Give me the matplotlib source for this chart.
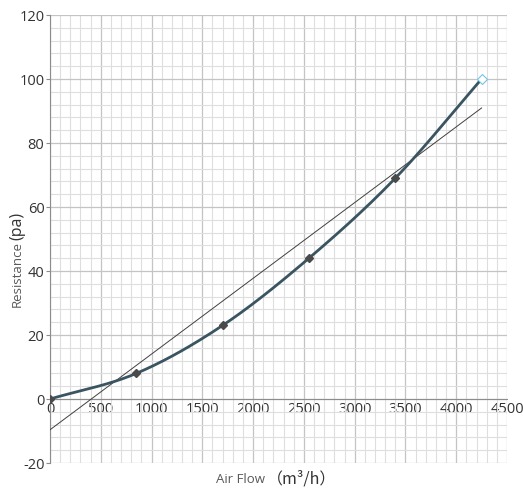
import numpy as np
import matplotlib
matplotlib.use("Agg")
import matplotlib.pyplot as plt
from matplotlib.ticker import MultipleLocator

plt.rcParams['font.family'] = ['Open Sans', 'DejaVu Sans']

air_flow = [0, 850, 1700, 2550, 3400, 4250]
resistance = [0, 8, 23, 44, 69, 100]
x_ticks = [0, 500, 1000, 1500, 2000, 2500, 3000, 3500, 4000, 4500]
y_ticks = [-20, 0, 20, 40, 60, 80, 100, 120]

def catmull_rom(xs, ys, n=40):
    xs = np.asarray(xs, float); ys = np.asarray(ys, float)
    px = np.concatenate([[2*xs[0]-xs[1]], xs, [2*xs[-1]-xs[-2]]])
    py = np.concatenate([[2*ys[0]-ys[1]], ys, [2*ys[-1]-ys[-2]]])
    ox, oy = [], []
    t = np.linspace(0, 1, n)
    for i in range(1, len(px)-2):
        p0, p1, p2, p3 = [np.array([px[j], py[j]]) for j in (i-1, i, i+1, i+2)]
        tt = t[:, None]
        pts = 0.5*((2*p1) + (-p0+p2)*tt + (2*p0-5*p1+4*p2-p3)*tt**2 + (-p0+3*p1-3*p2+p3)*tt**3)
        ox.extend(pts[:, 0]); oy.extend(pts[:, 1])
    return np.array(ox), np.array(oy)

fig = plt.figure(figsize=(5.23, 4.90), dpi=100)
ax = fig.add_axes([50/523, 27/490, 457/523, 448/490])

ax.set_xlim(0, 4500)
ax.set_ylim(-20, 120)
ax.xaxis.set_major_locator(MultipleLocator(500))
ax.xaxis.set_minor_locator(MultipleLocator(100))
ax.yaxis.set_major_locator(MultipleLocator(20))
ax.yaxis.set_minor_locator(MultipleLocator(4))
ax.grid(which='minor', color='#dedede', linewidth=0.8)
ax.grid(which='major', color='#c4c4c4', linewidth=0.9)
ax.set_axisbelow(True)

for s in ['top', 'right']:
    ax.spines[s].set_visible(False)
ax.spines['bottom'].set_position(('data', 0))
ax.spines['bottom'].set_color('#8c8c8c')
ax.spines['left'].set_color('#8c8c8c')

ax.set_xticks(x_ticks)
ax.set_yticks(y_ticks)
ax.set_xticklabels([str(v) for v in x_ticks])
ax.set_yticklabels([str(v) for v in y_ticks])
ax.tick_params(axis='x', which='both', length=0, labelsize=10.5, labelcolor='#333333', pad=2)
ax.tick_params(axis='y', which='major', length=3, color='#8c8c8c', labelsize=10.5, labelcolor='#333333', pad=1)
ax.tick_params(axis='y', which='minor', length=0)

# trend line
m, b = np.polyfit(air_flow, resistance, 1)
tx = np.array([0, air_flow[-1]])
ax.plot(tx, m*tx + b, color='#404040', linewidth=0.7, zorder=3)

# smooth curve
cx, cy = catmull_rom(air_flow, resistance)
ax.plot(cx, cy, color='#3a5561', linewidth=2.0, zorder=4)
ax.plot(air_flow[:-1], resistance[:-1], linestyle='none', marker='D', markersize=4,
        color='#4a4a4a', zorder=5)
ax.plot(air_flow[-1:], resistance[-1:], linestyle='none', marker='D', markersize=5,
        markerfacecolor='white', markeredgecolor='#6ec6e8', markeredgewidth=0.8, zorder=5)

fig.text(265/523, 1-479/490, 'Air Flow', ha='right', va='center', fontsize=9.5, color='#595959')
fig.text(267/523, 1-479/490, '（m³/h）', ha='left', va='center', fontsize=11.5, color='#333333',
         family=['Noto Sans CJK SC', 'DejaVu Sans'])
fig.text(17/523, 1-226/490, '(pa)', ha='center', va='center', rotation=90, fontsize=11.5, color='#333333')
fig.text(17/523, 1-241/490, 'Resistance', ha='center', va='top', rotation=90, fontsize=9.5, color='#595959')

fig.savefig('out.png', dpi=100)
